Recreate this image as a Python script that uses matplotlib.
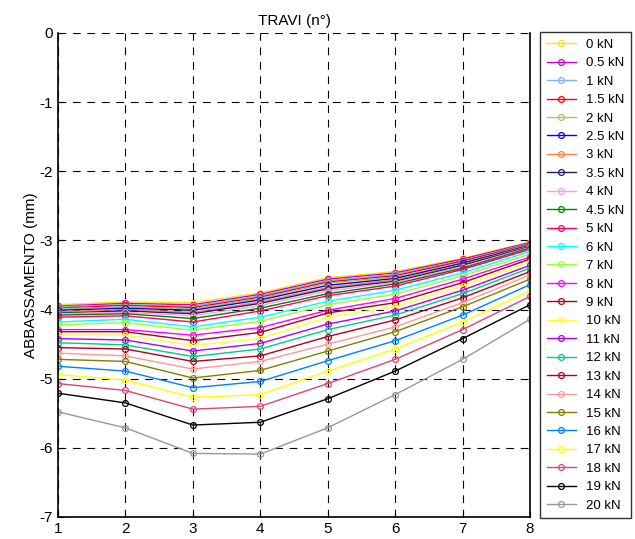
import matplotlib
matplotlib.use("Agg")
import matplotlib.pyplot as plt

plt.rcParams["font.family"] = ["Liberation Sans", "DejaVu Sans"]
plt.rcParams["axes.unicode_minus"] = False

# positions along the beam (travi)
positions = [1, 2, 3, 4, 5, 6, 7, 8]

loads = ["0 kN", "0.5 kN", "1 kN", "1.5 kN", "2 kN", "2.5 kN", "3 kN",
         "3.5 kN", "4 kN", "4.5 kN", "5 kN", "6 kN", "7 kN", "8 kN",
         "9 kN", "10 kN", "11 kN", "12 kN", "13 kN", "14 kN", "15 kN",
         "16 kN", "17 kN", "18 kN", "19 kN", "20 kN"]

colors = ["#FFE100", "#CC00CC", "#80B4F0", "#FF0000", "#99CC66", "#0000FF",
          "#FF8040", "#202060", "#FF99EE", "#008000", "#FF0066", "#00FFFF",
          "#99FF33", "#FF00FF", "#AA0022", "#FFFF33", "#AA00FF", "#00CC88",
          "#B00020", "#FF9999", "#808000", "#0080FF", "#FFFF00", "#DD4477",
          "#000000", "#999999"]

d_0 = [-3.93, -3.89, -3.90, -3.76, -3.54, -3.45, -3.26, -3.02]
d_05 = [-3.95, -3.91, -3.93, -3.78, -3.56, -3.47, -3.27, -3.03]
d_1 = [-3.96, -3.93, -3.95, -3.80, -3.58, -3.49, -3.29, -3.04]
d_15 = [-3.98, -3.94, -3.97, -3.82, -3.60, -3.51, -3.30, -3.05]
d_2 = [-3.99, -3.96, -3.99, -3.84, -3.62, -3.53, -3.32, -3.06]
d_25 = [-4.01, -3.98, -4.01, -3.86, -3.65, -3.55, -3.33, -3.07]
d_3 = [-4.03, -4.00, -4.04, -3.89, -3.68, -3.57, -3.35, -3.08]
d_35 = [-4.05, -4.02, -4.06, -3.91, -3.70, -3.59, -3.36, -3.09]
d_4 = [-4.06, -4.04, -4.09, -3.94, -3.73, -3.61, -3.38, -3.10]
d_45 = [-4.08, -4.06, -4.13, -3.98, -3.77, -3.63, -3.40, -3.11]
d_5 = [-4.11, -4.09, -4.18, -4.02, -3.80, -3.66, -3.42, -3.13]
d_6 = [-4.18, -4.14, -4.25, -4.11, -3.88, -3.72, -3.47, -3.16]
d_7 = [-4.22, -4.19, -4.30, -4.17, -3.93, -3.78, -3.51, -3.20]
d_8 = [-4.29, -4.29, -4.37, -4.26, -4.01, -3.84, -3.56, -3.24]
d_9 = [-4.32, -4.32, -4.45, -4.33, -4.05, -3.90, -3.61, -3.27]
d_10 = [-4.37, -4.37, -4.52, -4.42, -4.11, -3.96, -3.66, -3.31]
d_11 = [-4.42, -4.44, -4.60, -4.49, -4.21, -4.02, -3.72, -3.36]
d_12 = [-4.48, -4.51, -4.68, -4.57, -4.29, -4.08, -3.77, -3.40]
d_13 = [-4.55, -4.57, -4.75, -4.67, -4.39, -4.15, -3.83, -3.45]
d_14 = [-4.63, -4.67, -4.86, -4.75, -4.50, -4.25, -3.90, -3.50]
d_15b = [-4.72, -4.75, -4.99, -4.88, -4.60, -4.32, -3.96, -3.56]
d_16 = [-4.82, -4.89, -5.13, -5.04, -4.74, -4.45, -4.08, -3.64]
d_17 = [-4.94, -5.02, -5.27, -5.23, -4.89, -4.57, -4.18, -3.73]
d_18 = [-5.07, -5.17, -5.44, -5.40, -5.07, -4.72, -4.29, -3.81]
d_19 = [-5.21, -5.35, -5.67, -5.63, -5.29, -4.89, -4.42, -3.93]
d_20 = [-5.48, -5.71, -6.08, -6.09, -5.71, -5.23, -4.72, -4.14]

deflections = [d_0, d_05, d_1, d_15, d_2, d_25, d_3, d_35, d_4, d_45, d_5,
               d_6, d_7, d_8, d_9, d_10, d_11, d_12, d_13, d_14, d_15b,
               d_16, d_17, d_18, d_19, d_20]


def main():
    fig = plt.figure(figsize=(6.35, 5.39), dpi=100)
    ax = fig.add_axes([58 / 635, 1 - 517 / 539, 472 / 635, 484 / 539])

    for label, color, values in zip(loads, colors, deflections):
        ax.plot(positions, values, color=color, linewidth=1.0, marker="o",
                markersize=4.2, markerfacecolor="none", markeredgewidth=0.9,
                label=label)

    ax.set_xlim(1, 8)
    ax.set_ylim(-7, 0)
    ax.set_xticks(positions)
    ax.set_yticks(range(-7, 1))
    ax.tick_params(direction="in", labelsize=11, length=4)
    ax.grid(True, color="black", linestyle=(0, (7, 6)), linewidth=0.8)
    ax.spines["top"].set_visible(False)
    for side in ["left", "bottom", "right"]:
        ax.spines[side].set_linewidth(1.2)
    ax.set_title("TRAVI (n°)", fontsize=11, pad=6)
    ax.set_ylabel("ABBASSAMENTO (mm)", fontsize=11, labelpad=1)

    leg = fig.legend(loc="upper left", bbox_to_anchor=(540 / 635, 1 - 32 / 539),
                     fontsize=9.5, labelspacing=0.47, handlelength=2.2,
                     handletextpad=0.8, borderpad=0.5, frameon=True,
                     fancybox=False, borderaxespad=0)
    leg.get_frame().set_edgecolor("black")
    leg.get_frame().set_linewidth(1.0)

    fig.savefig("out.png", dpi=100)


if __name__ == "__main__":
    main()
